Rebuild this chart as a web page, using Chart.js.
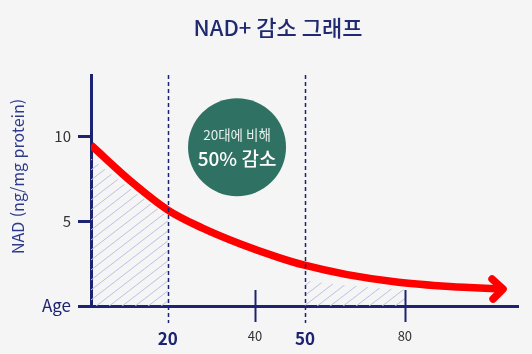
<!DOCTYPE html>
<html lang="ko">
<head>
<meta charset="utf-8">
<script src="https://cdn.jsdelivr.net/npm/chart.js@4.4.1/dist/chart.umd.min.js"></script>
<style>
  html, body { margin: 0; padding: 0; background: #f5f5f5; }
  #wrap { width: 532px; height: 354px; }
</style>
</head>
<body>
<div id="wrap"><canvas id="grafico" width="532" height="354"></canvas></div>
<script>
// eje x en "posiciones" del dibujo (0-100), las edades solo son etiquetas
const edadesEtiqueta = ["20", "40", "50", "80"];
const posicionesEtiqueta = [18, 38.4, 50.1, 73.5];
const edadesDestacadas = ["20", "50"];

const posicionesCurva = [0, 10, 18, 26, 35, 44, 50, 60, 72, 84, 96.5];
const valoresCurva = [9.47, 7.2, 5.65, 4.6, 3.65, 2.85, 2.4, 1.85, 1.4, 1.15, 1.0];

const posicionesRayado1 = [0, 5, 10, 14, 18];
const valoresRayado1 = [8.7, 7.7, 6.75, 6.0, 5.3];
const posicionesRayado2 = [50.1, 60, 73.5];
const valoresRayado2 = [1.5, 1.2, 0.95];

const ticksY = [0, 5, 10];
const etiquetaCero = "Age";

const titulo = "NAD+ 감소 그래프";
const burbuja = { x: 34.2, y: 9.35, lineas: ["20대에 비해", "50% 감소"] };

const azul = "#1c2370";
const rojo = "#ff0000";
const verde = "#2f7163";
const fuente = "'Noto Sans CJK KR', 'Noto Sans', sans-serif";

function crearPatronRayado(ctx) {
  const w = 13, h = 10;
  const c = document.createElement("canvas");
  c.width = w;
  c.height = h;
  const g = c.getContext("2d");
  g.strokeStyle = "#bcc0e2";
  g.lineWidth = 1;
  g.beginPath();
  [[0, 0], [w, 0], [-w, 0], [0, h], [0, -h]].forEach(([dx, dy]) => {
    g.moveTo(dx, h + dy);
    g.lineTo(w + dx, dy);
  });
  g.stroke();
  return ctx.createPattern(c, "repeat");
}

const aPuntos = (xs, ys) => xs.map((x, i) => ({ x, y: ys[i] }));

const pluginDecoracion = {
  id: "pluginDecoracion",
  afterDatasetsDraw(chart) {
    const { ctx, chartArea, scales } = chart;
    const sx = scales.x;
    const sy = scales.y;
    ctx.save();

    // titulo (un poco a la derecha del centro, como en el original)
    ctx.textAlign = "center";
    ctx.textBaseline = "middle";
    ctx.fillStyle = "#1f2a70";
    ctx.font = `500 22px ${fuente}`;
    ctx.fillText(titulo, 278, 28);

    // lineas punteadas y marcas cortas
    edadesEtiqueta.forEach((edad, i) => {
      const px = Math.round(sx.getPixelForValue(posicionesEtiqueta[i])) + 0.5;
      ctx.strokeStyle = azul;
      ctx.beginPath();
      if (edadesDestacadas.includes(edad)) {
        ctx.lineWidth = 1.5;
        ctx.setLineDash([4, 3]);
        ctx.moveTo(px, chartArea.top);
        ctx.lineTo(px, chartArea.bottom + 17);
      } else {
        ctx.lineWidth = 2;
        ctx.setLineDash([]);
        ctx.moveTo(px, chartArea.bottom - 16);
        ctx.lineTo(px, chartArea.bottom + 16);
      }
      ctx.stroke();
    });
    ctx.setLineDash([]);

    // punta de flecha
    const n = posicionesCurva.length - 1;
    const tx = sx.getPixelForValue(posicionesCurva[n]);
    const ty = sy.getPixelForValue(valoresCurva[n]);
    ctx.strokeStyle = rojo;
    ctx.lineWidth = 7.5;
    ctx.lineCap = "round";
    ctx.lineJoin = "round";
    ctx.beginPath();
    ctx.moveTo(tx - 11, ty - 10);
    ctx.lineTo(tx, ty);
    ctx.lineTo(tx - 10, ty + 10);
    ctx.stroke();

    // circulo verde
    const cx = sx.getPixelForValue(burbuja.x);
    const cy = sy.getPixelForValue(burbuja.y);
    ctx.fillStyle = verde;
    ctx.beginPath();
    ctx.arc(cx, cy, 49, 0, Math.PI * 2);
    ctx.fill();
    ctx.fillStyle = "#e6efec";
    ctx.font = `13.5px ${fuente}`;
    ctx.fillText(burbuja.lineas[0], cx, cy - 12);
    ctx.fillStyle = "#ffffff";
    ctx.font = `500 19px ${fuente}`;
    ctx.fillText(burbuja.lineas[1], cx, cy + 12);

    // titulo del eje y
    ctx.translate(18, (chartArea.top + chartArea.bottom) / 2 - 14);
    ctx.rotate(-Math.PI / 2);
    ctx.fillStyle = "#2d3a8c";
    ctx.font = `16px ${fuente}`;
    ctx.fillText("NAD (ng/mg protein)", 0, 0);
    ctx.restore();
  },
};

const canvas = document.getElementById("grafico");
const ctx = canvas.getContext("2d");
const rayado = crearPatronRayado(ctx);

new Chart(ctx, {
  type: "line",
  data: {
    datasets: [
      {
        data: aPuntos(posicionesCurva, valoresCurva),
        borderColor: rojo,
        borderWidth: 7.5,
        pointRadius: 0,
        cubicInterpolationMode: "monotone",
        fill: false,
        order: 0,
      },
      {
        data: aPuntos(posicionesRayado1, valoresRayado1),
        borderWidth: 0,
        pointRadius: 0,
        cubicInterpolationMode: "monotone",
        backgroundColor: rayado,
        fill: "origin",
        order: 1,
      },
      {
        data: aPuntos(posicionesRayado2, valoresRayado2),
        borderWidth: 0,
        pointRadius: 0,
        cubicInterpolationMode: "monotone",
        backgroundColor: rayado,
        fill: "origin",
        order: 1,
      },
    ],
  },
  options: {
    responsive: false,
    animation: false,
    layout: { padding: { left: 0, right: 14, top: 75, bottom: 0 } },
    plugins: {
      legend: { display: false },
      tooltip: { enabled: false },
      title: { display: false },
    },
    scales: {
      x: {
        type: "linear",
        min: 0,
        max: 100,
        afterFit: (scale) => { scale.height = 48; },
        afterBuildTicks: (scale) => {
          scale.ticks = posicionesEtiqueta.map((v) => ({ value: v }));
        },
        grid: { display: false, drawTicks: false },
        border: { display: true, color: azul, width: 3 },
        ticks: {
          autoSkip: false,
          maxRotation: 0,
          padding: 22,
          callback: (v, i) => edadesEtiqueta[i],
          color: (c) => edadesDestacadas.includes(edadesEtiqueta[c.index]) ? azul : "#333333",
          font: (c) => edadesDestacadas.includes(edadesEtiqueta[c.index])
            ? { family: fuente, size: 17, weight: "bold" }
            : { family: fuente, size: 13 },
        },
      },
      y: {
        min: 0,
        max: 13.6,
        afterFit: (scale) => { scale.width = 91; },
        afterBuildTicks: (scale) => {
          scale.ticks = ticksY.map((v) => ({ value: v }));
        },
        grid: {
          drawOnChartArea: false,
          drawTicks: true,
          tickLength: 13,
          tickWidth: 3,
          tickColor: azul,
        },
        border: { display: true, color: azul, width: 3 },
        ticks: {
          padding: 7,
          callback: (v) => (v === 0 ? etiquetaCero : v),
          color: (c) => (c.tick && c.tick.value === 0 ? azul : "#333333"),
          font: (c) => ({ family: fuente, size: c.tick && c.tick.value === 0 ? 17 : 15 }),
        },
      },
    },
  },
  plugins: [pluginDecoracion],
});
</script>
</body>
</html>
